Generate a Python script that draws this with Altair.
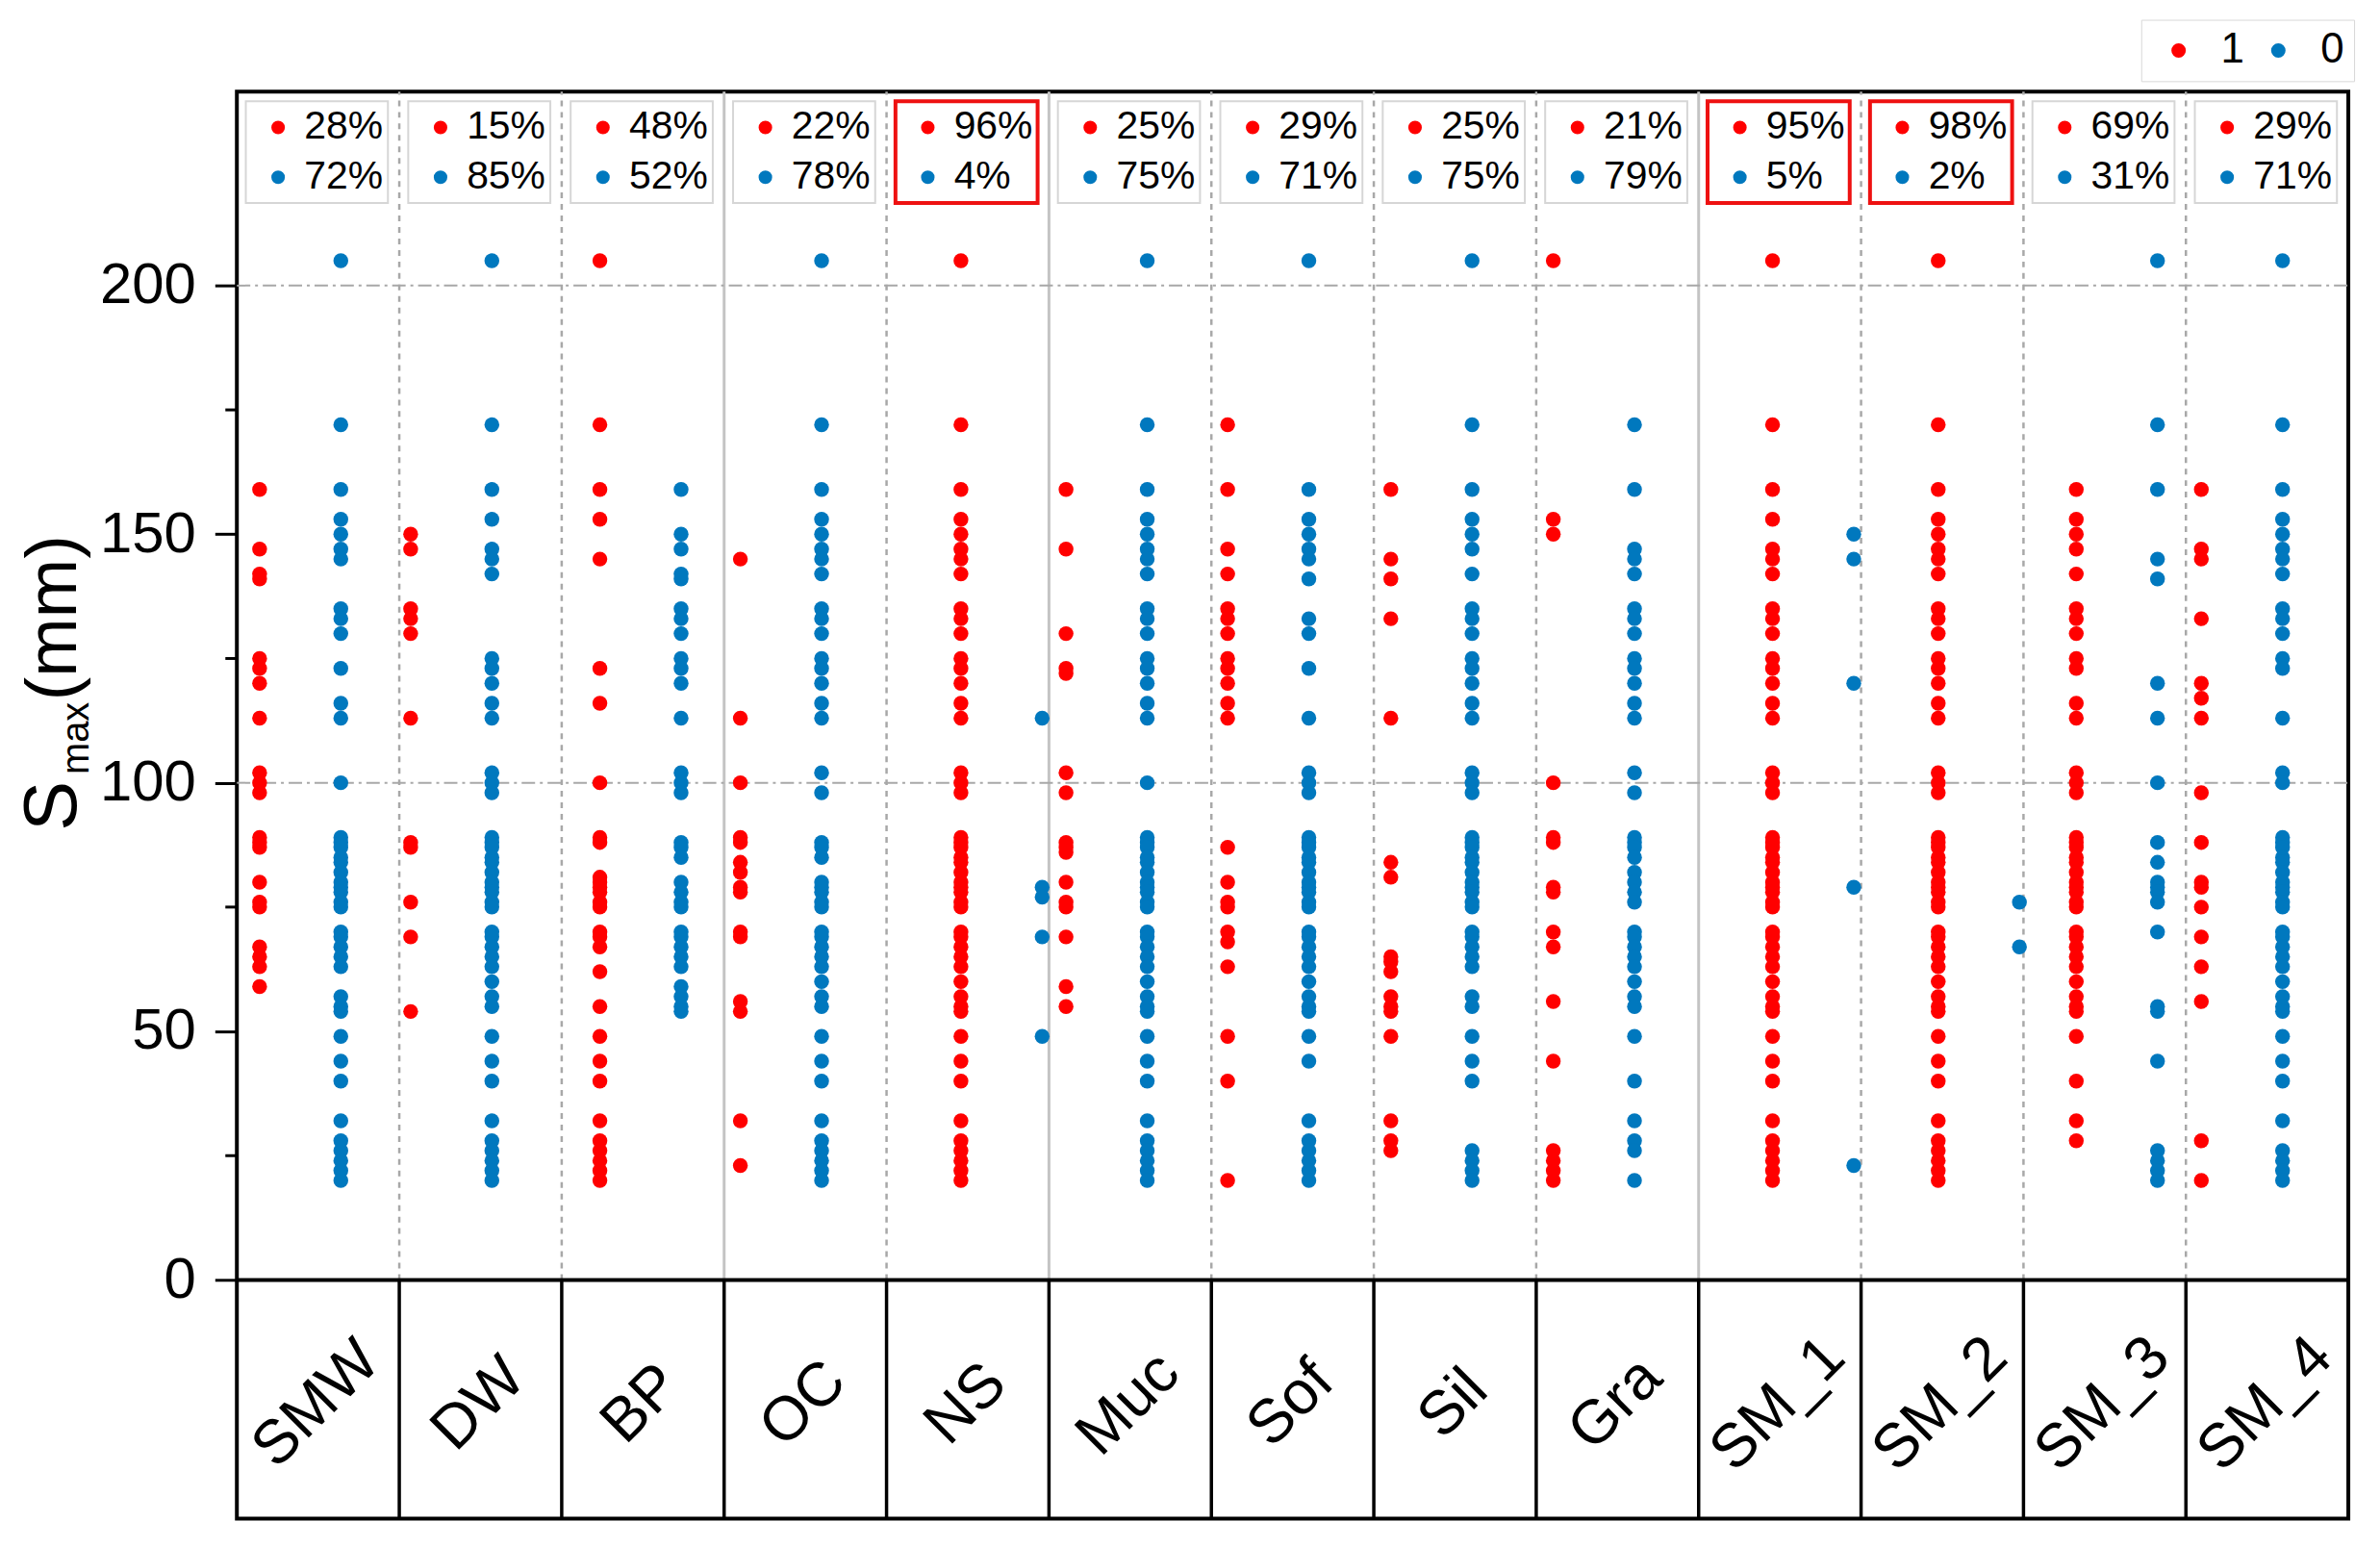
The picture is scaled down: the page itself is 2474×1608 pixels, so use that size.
import altair as alt
import pandas as pd

# ---------------- data ----------------
categories = ["SMW", "DW", "BP", "OC", "NS", "Muc", "Sof", "Sil", "Gra", "SM_1", "SM_2", "SM_3", "SM_4"]
pct_1 = [28, 15, 48, 22, 96, 25, 29, 25, 21, 95, 98, 69, 29]
pct_0 = [72, 85, 52, 78, 4, 75, 71, 75, 79, 5, 2, 31, 71]
highlight = ["NS", "SM_1", "SM_2"]
# column position of the "1" points inside each category (category units)
col_pos = [0.14, 0.07, 0.235, 0.10, 0.458, 0.105, 0.10, 0.105, 0.105, 0.455, 0.475, 0.325, 0.095]

SMW_1 = [159, 147, 142, 141, 125, 123, 120, 113, 102, 100, 98, 89, 88, 87, 80, 76, 75, 67, 65, 63, 59]
SMW_0 = [205, 172, 159, 153, 150, 147, 145, 135, 133, 130, 123, 116, 113, 100, 89, 88, 87, 85, 84, 82, 80, 79,
         78, 76, 75, 70, 69, 67, 65, 63, 57, 55, 54, 49, 44, 40, 32, 28, 26, 24, 22, 20]
DW_1 = [150, 147, 135, 133, 130, 113, 88, 87, 76, 69, 54]
DW_0 = [205, 172, 159, 153, 147, 145, 142, 125, 123, 120, 116, 113, 102, 100, 98, 89, 88, 87, 85, 84, 82, 80,
        79, 78, 76, 75, 70, 69, 67, 65, 63, 60, 57, 55, 49, 44, 40, 32, 28, 26, 24, 22, 20]
BP_1 = [205, 172, 159, 153, 145, 123, 116, 100, 89, 88, 81, 80, 79, 78, 76, 75, 70, 69, 67, 62, 55, 49, 44,
        40, 32, 28, 26, 24, 22, 20]
BP_0 = [159, 150, 147, 142, 141, 135, 133, 130, 125, 123, 120, 113, 102, 100, 98, 88, 87, 85, 80, 78, 76, 75,
        70, 69, 67, 65, 63, 59, 57, 55, 54]
OC_1 = [145, 113, 100, 89, 88, 84, 82, 79, 78, 70, 69, 56, 54, 32, 23]
OC_0 = [205, 172, 159, 153, 150, 147, 145, 142, 135, 133, 130, 125, 123, 120, 116, 113, 102, 98, 88, 87, 85,
        80, 79, 78, 76, 75, 70, 69, 67, 65, 63, 60, 57, 55, 49, 44, 40, 32, 28, 26, 24, 22, 20]
NS_1 = [205, 172, 159, 153, 150, 147, 145, 142, 135, 133, 130, 125, 123, 120, 116, 113, 102, 100, 98, 89, 88,
        87, 85, 84, 82, 80, 79, 78, 76, 75, 70, 69, 67, 65, 63, 60, 57, 55, 54, 49, 44, 40, 32, 28, 26, 24, 22, 20]
NS_0 = [113, 79, 77, 69, 49]
Muc_1 = [159, 147, 130, 123, 122, 102, 98, 88, 87, 86, 80, 76, 75, 69, 59, 55]
Muc_0 = [205, 172, 159, 153, 150, 147, 145, 142, 135, 133, 130, 125, 123, 120, 116, 113, 100, 89, 88, 87, 85,
         84, 82, 80, 79, 78, 76, 75, 70, 69, 67, 65, 63, 60, 57, 55, 54, 49, 44, 40, 32, 28, 26, 24, 22, 20]
Sof_1 = [172, 159, 147, 142, 135, 133, 130, 125, 123, 120, 116, 113, 87, 80, 76, 75, 70, 68, 63, 49, 40, 20]
Sof_0 = [205, 159, 153, 150, 147, 145, 141, 133, 130, 123, 113, 102, 100, 98, 89, 88, 87, 85, 84, 82, 80, 79,
         78, 76, 75, 70, 69, 67, 65, 63, 60, 57, 55, 54, 49, 44, 32, 28, 26, 24, 22, 20]
Sil_1 = [159, 145, 141, 133, 113, 84, 81, 65, 64, 62, 57, 55, 54, 49, 32, 28, 26]
Sil_0 = [205, 172, 159, 153, 150, 147, 142, 135, 133, 130, 125, 123, 120, 116, 113, 102, 100, 98, 89, 88, 87,
         85, 84, 82, 80, 79, 78, 76, 75, 70, 69, 67, 65, 63, 57, 55, 49, 44, 40, 26, 24, 22, 20]
Gra_1 = [205, 153, 150, 100, 89, 88, 79, 78, 70, 67, 56, 44, 26, 24, 22, 20]
Gra_0 = [172, 159, 147, 145, 142, 135, 133, 130, 125, 123, 120, 116, 113, 102, 98, 89, 88, 87, 85, 82, 80, 78,
         76, 70, 69, 67, 65, 63, 60, 57, 55, 49, 40, 32, 28, 26, 20]
SM1_1 = [205, 172, 159, 153, 147, 145, 142, 135, 133, 130, 125, 123, 120, 116, 113, 102, 100, 98, 89, 88, 87,
         85, 84, 82, 80, 79, 78, 76, 75, 70, 69, 67, 65, 63, 60, 57, 55, 54, 49, 44, 40, 32, 28, 26, 24, 22, 20]
SM1_0 = [150, 145, 120, 79, 23]
SM2_1 = [205, 172, 159, 153, 150, 147, 145, 142, 135, 133, 130, 125, 123, 120, 116, 113, 102, 100, 98, 89, 88,
         87, 85, 84, 82, 80, 79, 78, 76, 75, 70, 69, 67, 65, 63, 60, 57, 55, 54, 49, 44, 40, 32, 28, 26, 24, 22, 20]
SM2_0 = [76, 67]
SM3_1 = [159, 153, 150, 147, 142, 135, 133, 130, 125, 123, 116, 113, 102, 100, 98, 89, 88, 87, 85, 84, 82, 80,
         79, 78, 76, 75, 70, 69, 67, 65, 63, 60, 57, 55, 54, 49, 40, 32, 28]
SM3_0 = [205, 172, 159, 145, 141, 120, 113, 100, 88, 84, 80, 79, 78, 76, 70, 55, 54, 44, 26, 24, 22, 20]
SM4_1 = [159, 147, 145, 133, 120, 117, 113, 98, 88, 80, 79, 75, 69, 63, 56, 28, 20]
SM4_0 = [205, 172, 159, 153, 150, 147, 145, 142, 135, 133, 130, 125, 123, 113, 102, 100, 89, 88, 87, 85, 84,
         82, 80, 79, 78, 76, 75, 70, 69, 67, 65, 63, 60, 57, 55, 54, 49, 44, 40, 32, 26, 24, 22, 20]

series_1 = [SMW_1, DW_1, BP_1, OC_1, NS_1, Muc_1, Sof_1, Sil_1, Gra_1, SM1_1, SM2_1, SM3_1, SM4_1]
series_0 = [SMW_0, DW_0, BP_0, OC_0, NS_0, Muc_0, Sof_0, Sil_0, Gra_0, SM1_0, SM2_0, SM3_0, SM4_0]

y_ticks = [0, 50, 100, 150, 200]
y_minor = [25, 75, 125, 175]
grid_y = [100, 200]
solid_bounds = [3, 5, 9]
dashed_bounds = [1, 2, 4, 6, 7, 8, 10, 11, 12]

RED = "#FF0000"
BLUE = "#0078BE"
FONT = "Liberation Sans"

W, H = 2202, 1488
YMIN, YMAX = -48, 239
N = len(categories)

# ---------------- tables ----------------
rows = []
for i, cat in enumerate(categories):
    for v in series_1[i]:
        rows.append({"cat": cat, "x": i + col_pos[i], "y": v, "cls": "1"})
    for v in series_0[i]:
        rows.append({"cat": cat, "x": i + col_pos[i] + 0.5, "y": v, "cls": "0"})
pts = pd.DataFrame(rows)

BOX_TOP, BOX_BOT = 237.1, 216.6
ROW1, ROW0 = 231.8, 221.8
boxes = pd.DataFrame({
    "cat": categories,
    "x": [i + 0.055 for i in range(N)],
    "x2": [i + 0.93 for i in range(N)],
    "top": [BOX_TOP] * N,
    "bot": [BOX_BOT] * N,
    "hl": [c in highlight for c in categories],
})
pdots = pd.DataFrame(
    [{"x": i + 0.254, "y": ROW1, "col": RED} for i in range(N)]
    + [{"x": i + 0.254, "y": ROW0, "col": BLUE} for i in range(N)]
)
ptext = pd.DataFrame(
    [{"x": i + 0.415, "y": ROW1, "t": f"{pct_1[i]}%"} for i in range(N)]
    + [{"x": i + 0.415, "y": ROW0, "t": f"{pct_0[i]}%"} for i in range(N)]
)
labels = pd.DataFrame({"x": [i + 0.49 for i in range(N)], "y": [-25] * N, "t": categories})

xs = alt.Scale(domain=[0, N], nice=False, zero=False)
ys = alt.Scale(domain=[YMIN, YMAX], nice=False, zero=False)
YAX = alt.Axis(values=y_ticks, grid=False, domain=False, tickSize=23, tickWidth=3, tickColor="black",
               labelFontSize=60, labelFont=FONT, labelColor="black", labelPadding=20, title=None)


def X(f):
    return alt.X(f, type="quantitative", scale=xs, axis=None)


def Y(f):
    return alt.Y(f, type="quantitative", scale=ys, axis=YAX)


# gridlines
nd = len(dashed_bounds)
ns = len(solid_bounds)
vdash = alt.Chart(pd.DataFrame({"b": dashed_bounds, "y0": [0] * nd, "y1": [YMAX] * nd})).mark_rule(
    color="#a8a8a8", strokeWidth=2.5, strokeDash=[6, 6]).encode(x=X("b"), y=Y("y0"), y2="y1")
vsolid = alt.Chart(pd.DataFrame({"b": solid_bounds, "y0": [0] * ns, "y1": [YMAX] * ns})).mark_rule(
    color="#c4c4c4", strokeWidth=3).encode(x=X("b"), y=Y("y0"), y2="y1")
hgrid = alt.Chart(pd.DataFrame({"g": grid_y})).mark_rule(
    color="#a8a8a8", strokeWidth=2, strokeDash=[14, 5, 3, 5]).encode(y=Y("g"), x=alt.value(0), x2=alt.value(W))

# table below the plot
tdiv = alt.Chart(pd.DataFrame({"b": list(range(1, N)), "y0": [YMIN] * (N - 1), "y1": [0] * (N - 1)})).mark_rule(
    color="black", strokeWidth=3.5).encode(x=X("b"), y=Y("y0"), y2="y1")
zline = alt.Chart(pd.DataFrame({"z": [0]})).mark_rule(color="black", strokeWidth=4).encode(
    y=Y("z"), x=alt.value(0), x2=alt.value(W))
catlab = alt.Chart(labels).mark_text(
    font=FONT, fontSize=64, angle=315, align="center", baseline="middle", color="black").encode(
    x=X("x"), y=Y("y"), text="t:N")

# percentage boxes
bx_plain = alt.Chart(boxes[~boxes["hl"]]).mark_rect(fill="white", stroke="#d6d6d6", strokeWidth=2).encode(
    x=X("x"), x2="x2", y=Y("top"), y2="bot")
bx_hl = alt.Chart(boxes[boxes["hl"]]).mark_rect(fill="white", stroke="#EE1111", strokeWidth=4).encode(
    x=X("x"), x2="x2", y=Y("top"), y2="bot")
bx_dots = alt.Chart(pdots).mark_circle(size=200, opacity=1).encode(
    x=X("x"), y=Y("y"), color=alt.Color("col:N", scale=None))
bx_text = alt.Chart(ptext).mark_text(
    font=FONT, fontSize=41, align="left", baseline="middle", color="black").encode(
    x=X("x"), y=Y("y"), text="t:N")

# main points
points = alt.Chart(pts).mark_circle(size=240, opacity=1).encode(
    x=X("x"),
    y=Y("y"),
    color=alt.Color("cls:N", scale=alt.Scale(domain=["1", "0"], range=[RED, BLUE]),
                    legend=alt.Legend(orient="none", legendX=1986, legendY=-75, direction="horizontal",
                                      title=None, strokeColor="#d8d8d8", fillColor="white", padding=10,
                                      symbolType="circle", symbolSize=227, symbolStrokeWidth=0,
                                      symbolOffset=7,
                                      labelFontSize=44, labelFont=FONT, labelColor="black",
                                      labelOffset=22, columnPadding=6)),
)

# minor ticks on the y axis
minor = alt.Chart(pd.DataFrame({"m": y_minor})).mark_rule(color="black", strokeWidth=3).encode(
    y=Y("m"), x=alt.value(-12), x2=alt.value(0))

# y axis title S_max(mm)
t_s = alt.Chart(pd.DataFrame({"t": ["S"]})).mark_text(
    font=FONT, fontSize=78, angle=270, align="left", baseline="alphabetic", color="black").encode(
    x=alt.value(-168), y=alt.value(771), text="t:N")
t_max = alt.Chart(pd.DataFrame({"t": ["max"]})).mark_text(
    font=FONT, fontSize=40, angle=270, align="left", baseline="alphabetic", color="black").encode(
    x=alt.value(-155), y=alt.value(712), text="t:N")
t_mm = alt.Chart(pd.DataFrame({"t": ["(mm)"]})).mark_text(
    font=FONT, fontSize=74, angle=270, align="left", baseline="alphabetic", color="black").encode(
    x=alt.value(-168), y=alt.value(635), text="t:N")

chart = alt.layer(
    vdash, vsolid, hgrid, tdiv, zline, catlab,
    bx_plain, bx_hl, bx_dots, bx_text,
    points, minor, t_s, t_max, t_mm,
).properties(
    width=W, height=H,
    autosize=alt.AutoSizeParams(type="none"),
    padding={"left": 239, "top": 85, "right": 25, "bottom": 27},
    background="white",
).configure_view(stroke="black", strokeWidth=4)

chart.save("out.html", embed_options={"renderer": "svg", "actions": False})
